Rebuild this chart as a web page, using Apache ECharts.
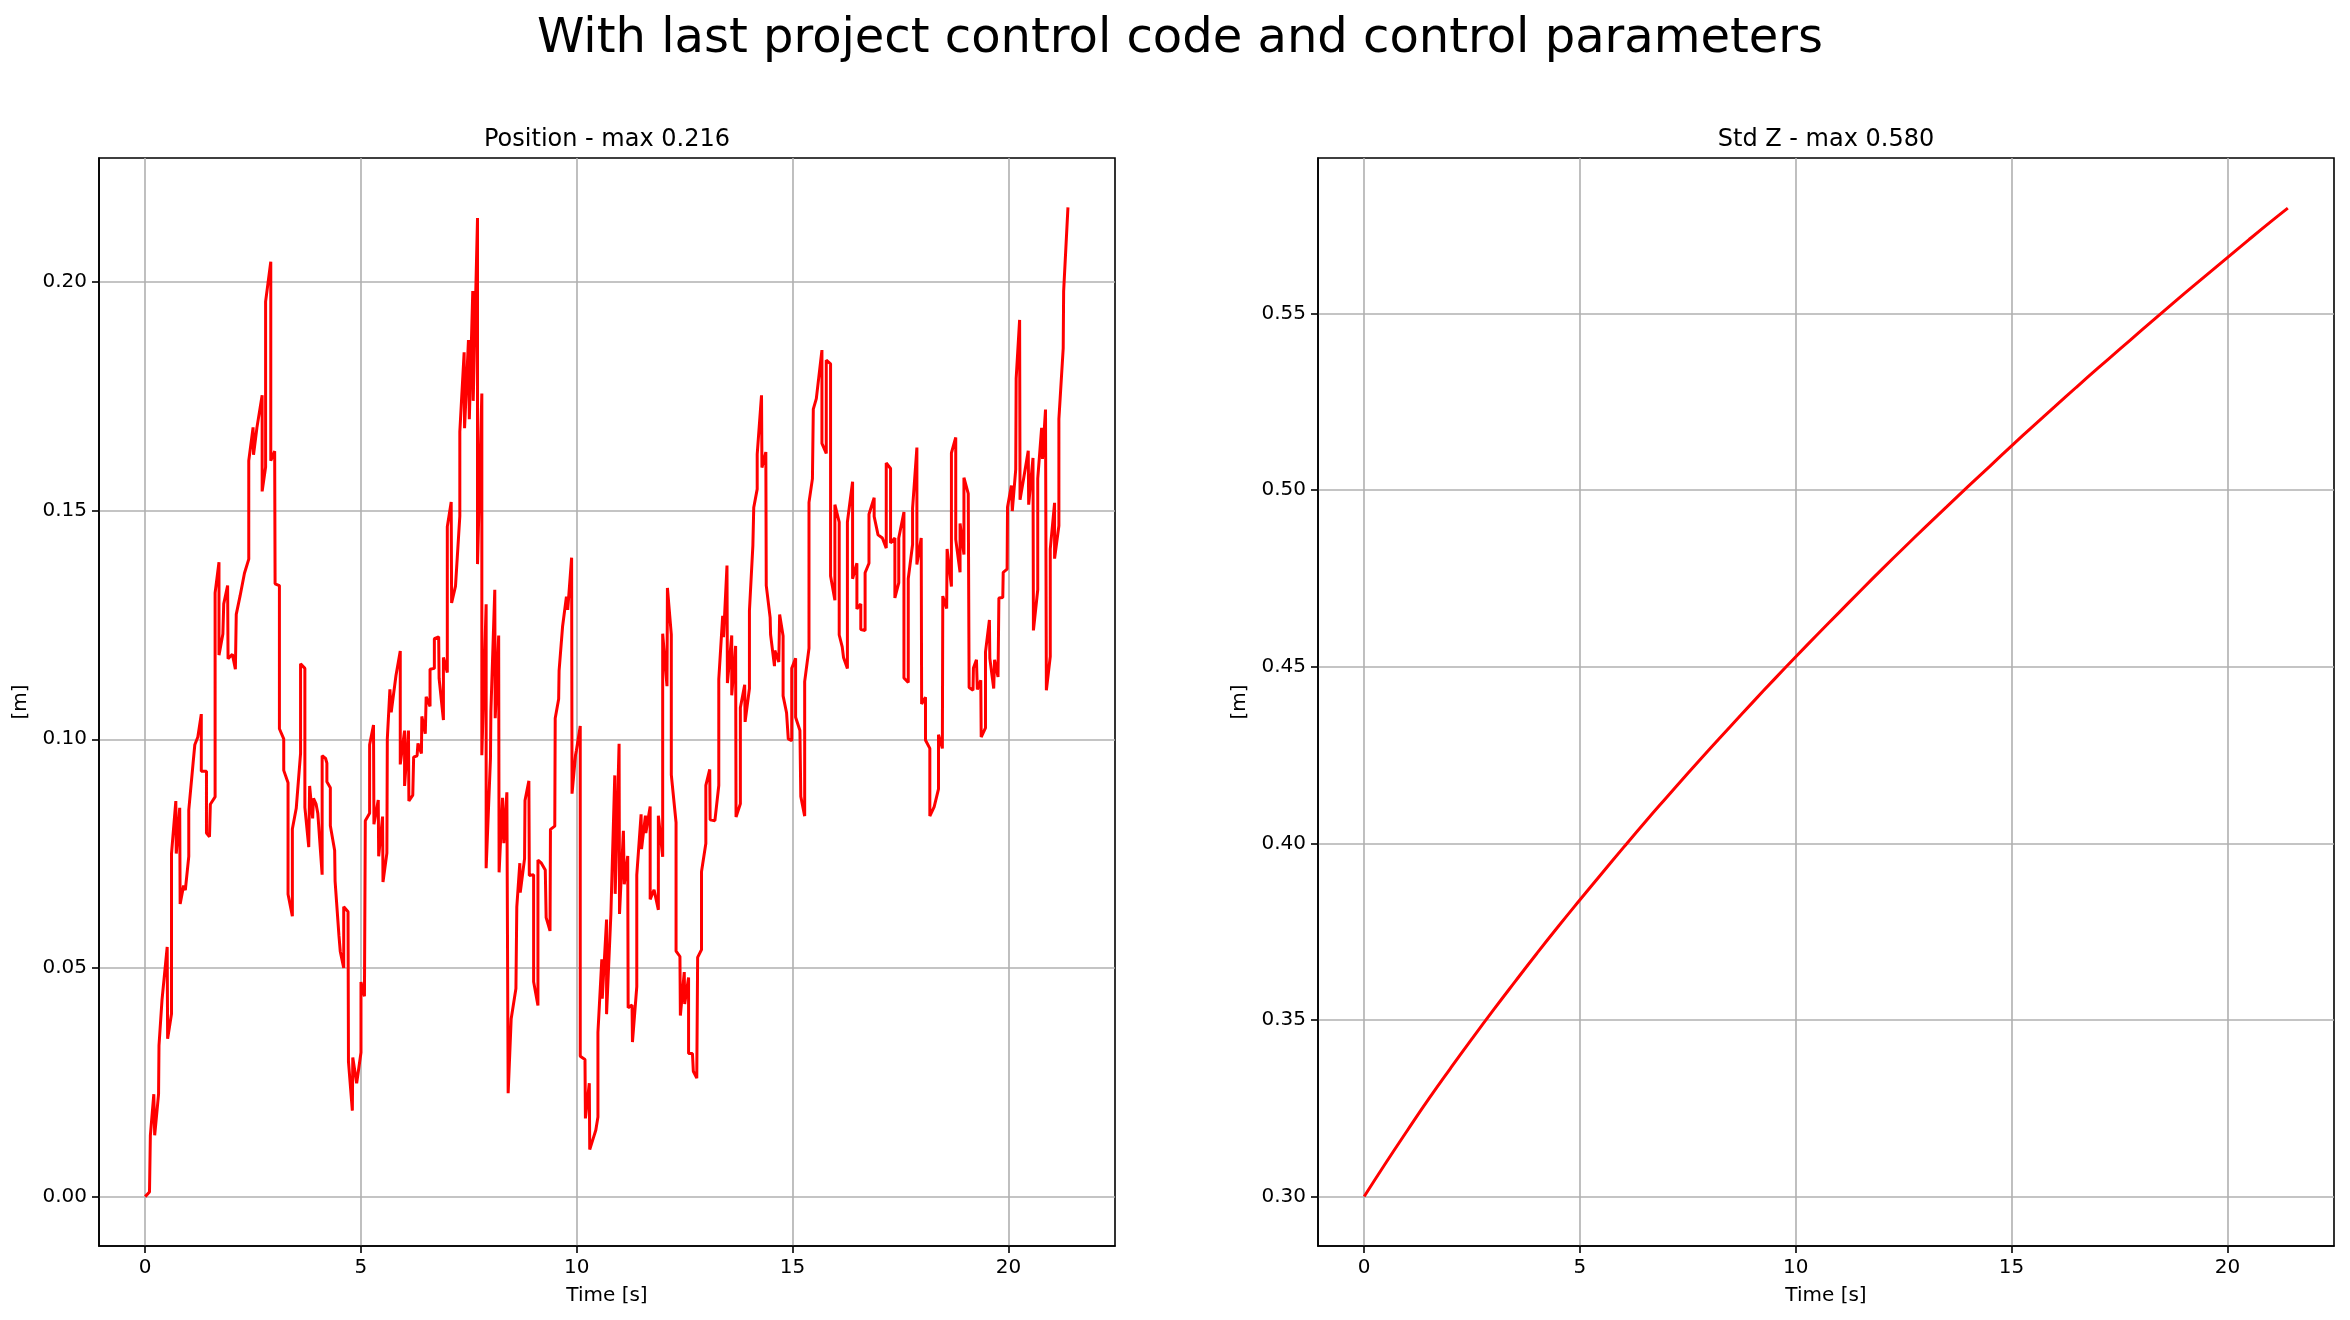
<!DOCTYPE html>
<html>
<head>
<meta charset="utf-8">
<script src="https://cdn.jsdelivr.net/npm/echarts@6/dist/echarts.min.js"></script>
<style>
html,body{margin:0;padding:0;background:#fff;}
#chart{width:2350px;height:1320px;}
</style>
</head>
<body>
<div id="chart"></div>
<script>
// ---- Data ----
const suptitle = "With last project control code and control parameters";
const titlePos = "Position - max 0.216";
const titleStd = "Std Z - max 0.580";
const xName = "Time [s]";
const yName = "[m]";

const xTicks = [0, 5, 10, 15, 20];
const posYTicks = [0.00, 0.05, 0.10, 0.15, 0.20];
const stdYTicks = [0.30, 0.35, 0.40, 0.45, 0.50, 0.55];

const posT = [0.00,0.10,0.12,0.20,0.22,0.31,0.32,0.39,0.51,0.52,0.61,0.61,0.71,0.72,0.80,0.81,0.89,0.93,1.01,1.01,
1.11,1.15,1.22,1.30,1.30,1.42,1.42,1.49,1.51,1.62,1.62,1.71,1.71,1.80,1.82,1.91,1.92,2.02,2.09,2.11,
2.20,2.30,2.40,2.40,2.50,2.51,2.59,2.71,2.71,2.79,2.79,2.91,2.91,3.00,3.01,3.11,3.11,3.21,3.21,3.31,
3.31,3.41,3.41,3.50,3.60,3.60,3.70,3.70,3.79,3.81,3.88,3.90,3.96,4.00,4.10,4.10,4.18,4.21,4.21,4.29,
4.29,4.39,4.40,4.49,4.52,4.60,4.60,4.70,4.71,4.80,4.81,4.90,5.00,5.00,5.08,5.10,5.20,5.20,5.29,5.30,
5.40,5.41,5.50,5.51,5.60,5.61,5.67,5.70,5.78,5.81,5.91,5.91,6.01,6.01,6.10,6.11,6.20,6.22,6.30,6.32,
6.40,6.41,6.49,6.51,6.60,6.60,6.70,6.70,6.80,6.81,6.91,6.91,7.00,7.00,7.09,7.10,7.19,7.29,7.29,7.39,
7.40,7.49,7.51,7.59,7.60,7.70,7.70,7.80,7.80,7.90,7.90,8.00,8.01,8.10,8.11,8.19,8.20,8.28,8.31,8.38,
8.41,8.48,8.59,8.61,8.68,8.69,8.79,8.80,8.89,8.90,9.00,9.00,9.10,9.10,9.18,9.27,9.29,9.38,9.39,9.49,
9.50,9.58,9.59,9.67,9.76,9.79,9.88,9.89,9.97,9.99,10.08,10.08,10.19,10.20,10.29,10.30,10.39,10.44,10.49,10.49,
10.58,10.59,10.69,10.69,10.79,10.88,10.89,10.98,10.99,11.08,11.10,11.18,11.19,11.28,11.29,11.39,11.39,11.49,11.50,11.59,
11.60,11.70,11.70,11.79,11.89,11.89,11.99,11.99,12.09,12.10,12.19,12.19,12.30,12.30,12.39,12.40,12.49,12.50,12.59,12.59,
12.68,12.70,12.78,12.80,12.89,12.89,12.99,12.99,13.08,13.09,13.20,13.29,13.29,13.38,13.40,13.48,13.49,13.59,13.59,13.68,
13.69,13.79,13.79,13.89,13.90,14.00,14.00,14.08,14.10,14.18,14.18,14.28,14.29,14.38,14.39,14.48,14.49,14.58,14.59,14.68,
14.70,14.78,14.78,14.86,14.90,14.98,14.98,15.07,15.07,15.17,15.19,15.28,15.28,15.38,15.38,15.46,15.48,15.55,15.68,15.68,
15.78,15.78,15.88,15.88,15.98,15.98,16.08,16.08,16.15,16.18,16.27,16.27,16.39,16.39,16.49,16.49,16.58,16.58,16.68,16.68,
16.77,16.77,16.89,16.89,16.98,17.08,17.17,17.17,17.27,17.27,17.37,17.37,17.46,17.46,17.58,17.58,17.68,17.68,17.78,17.78,
17.88,17.88,17.98,17.99,18.08,18.08,18.18,18.18,18.28,18.38,18.38,18.47,18.48,18.57,18.58,18.68,18.68,18.78,18.78,18.88,
18.88,18.97,18.97,19.07,19.09,19.18,19.19,19.26,19.28,19.36,19.37,19.47,19.47,19.56,19.57,19.66,19.68,19.76,19.78,19.87,
19.88,19.97,19.98,20.07,20.09,20.17,20.18,20.26,20.27,20.36,20.46,20.47,20.57,20.58,20.68,20.68,20.77,20.79,20.86,20.88,
20.97,20.97,21.07,21.07,21.17,21.17,21.27,21.28,21.38];

const posY = [0.000,0.001,0.0134,0.0224,0.0134,0.0224,0.033,0.043,0.0546,0.0345,0.040,0.075,0.0865,0.075,0.085,0.064,0.068,0.067,0.0744,0.0845,
0.0948,0.0988,0.1005,0.1055,0.093,0.093,0.0795,0.0787,0.0858,0.0874,0.132,0.1387,0.1184,0.123,0.1296,0.1336,0.1176,0.1186,0.1153,0.1273,
0.1314,0.1363,0.1394,0.1609,0.1682,0.1622,0.1682,0.1752,0.1542,0.1595,0.1957,0.2044,0.1609,0.163,0.134,0.1336,0.1023,0.1001,0.0932,0.0905,
0.0661,0.0613,0.0804,0.0849,0.0969,0.1165,0.1155,0.0851,0.0764,0.0898,0.0827,0.0871,0.0858,0.0838,0.0704,0.0964,0.0958,0.0948,0.0907,0.0894,
0.0811,0.0757,0.069,0.057,0.0536,0.050,0.0634,0.0623,0.0295,0.0188,0.0304,0.0248,0.0315,0.0469,0.0438,0.0822,0.0838,0.0988,0.1031,0.0814,
0.0867,0.0744,0.0831,0.0688,0.0751,0.1001,0.1109,0.1059,0.1117,0.1139,0.1193,0.0945,0.1019,0.0898,0.1019,0.0865,0.0878,0.0961,0.0964,0.0991,
0.0969,0.105,0.1012,0.1093,0.1072,0.1153,0.1155,0.122,0.1224,0.1133,0.1042,0.1179,0.1146,0.1465,0.1519,0.1298,0.1335,0.1488,0.1672,0.1846,
0.168,0.1873,0.170,0.198,0.174,0.214,0.1383,0.1756,0.0965,0.1295,0.0718,0.0958,0.1061,0.1327,0.1046,0.1227,0.0709,0.0872,0.0773,0.0884,
0.0226,0.0389,0.0455,0.0633,0.0729,0.0665,0.0739,0.0866,0.0909,0.0702,0.0704,0.047,0.0418,0.0736,0.0729,0.0714,0.061,0.0581,0.0803,0.081,
0.1046,0.1088,0.115,0.1246,0.1312,0.1283,0.1397,0.0881,0.0965,0.0975,0.1029,0.0307,0.030,0.0171,0.0248,0.0103,0.013,0.0145,0.0174,0.0359,
0.0519,0.0433,0.0606,0.0399,0.0618,0.0921,0.0662,0.099,0.0618,0.080,0.0683,0.0745,0.0413,0.0419,0.0338,0.0459,0.0703,0.0836,0.076,0.0833,
0.0795,0.0853,0.065,0.0671,0.0627,0.0833,0.0743,0.1231,0.1116,0.1331,0.1229,0.0922,0.0818,0.0537,0.0525,0.0396,0.0491,0.0421,0.0479,0.0313,
0.0313,0.0274,0.0259,0.0523,0.054,0.0711,0.0772,0.0899,0.0934,0.0824,0.0822,0.0899,0.1131,0.127,0.1223,0.138,0.1123,0.1227,0.1096,0.1204,
0.083,0.0859,0.1069,0.1119,0.1038,0.1111,0.1281,0.1424,0.1507,0.1547,0.1623,0.1752,0.1594,0.1628,0.1336,0.1266,0.1229,0.116,0.1194,0.1169,
0.1273,0.1226,0.1095,0.1058,0.1001,0.0997,0.1155,0.1177,0.1048,0.1019,0.0875,0.0832,0.1126,0.1199,0.1518,0.157,0.1722,0.1745,0.1851,0.1647,
0.1625,0.1829,0.1821,0.1357,0.1304,0.1513,0.1475,0.1228,0.1202,0.1179,0.1155,0.1475,0.1563,0.1351,0.1385,0.1285,0.1296,0.124,0.1238,0.1364,
0.1385,0.1492,0.1528,0.1487,0.1447,0.144,0.1418,0.1604,0.1592,0.1429,0.144,0.1309,0.1342,0.144,0.1497,0.1134,0.1124,0.1351,0.1426,0.1505,
0.1638,0.1382,0.144,0.1077,0.1092,0.0998,0.098,0.0832,0.0852,0.0891,0.1010,0.098,0.1313,0.1286,0.1416,0.1334,0.1626,0.166,0.1437,0.1365,
0.1472,0.1404,0.1572,0.1537,0.1113,0.1107,0.1156,0.1174,0.1109,0.1129,0.1005,0.1025,0.1191,0.1261,0.1177,0.1111,0.1174,0.1136,0.1309,0.131,
0.1365,0.1372,0.1508,0.1555,0.1499,0.159,0.1789,0.1917,0.1524,0.1574,0.1631,0.1513,0.1615,0.1238,0.1327,0.157,0.1681,0.1613,0.1721,0.1107,
0.1181,0.1416,0.1517,0.1395,0.1467,0.17,0.1855,0.198,0.2163];

const stdT = [0,0.5,1,1.5,2,2.5,3,3.5,4,4.5,5,5.5,6,6.5,7,7.5,8,8.5,9,9.5,10,10.5,11,11.5,12,12.5,13,13.5,14,14.5,15,15.5,16,16.5,17,17.5,18,18.5,19,19.5,20,20.5,21,21.4];
const stdY = [0.300,0.3095,0.3187,0.3277,0.3363,0.3447,0.3529,0.3609,0.3688,0.3765,0.3840,0.3914,0.3987,0.4059,0.4129,0.4198,0.4266,0.4333,0.4399,0.4464,
0.4528,0.4591,0.4653,0.4715,0.4776,0.4836,0.4895,0.4953,0.5011,0.5068,0.5125,0.5181,0.5236,0.5291,0.5345,0.5398,0.5451,0.5504,0.5556,0.5607,
0.5658,0.5709,0.5759,0.5798];

// ---- Chart ----
const FONT = "DejaVu Sans";
const posData = posT.map((t, i) => [t, posY[i]]);
const stdData = stdT.map((t, i) => [t, stdY[i]]);

function xAxisCfg(gridIndex) {
  return {
    type: 'value', gridIndex: gridIndex,
    min: -1.07, max: 22.47,
    name: xName, nameLocation: 'middle', nameGap: 40,
    nameTextStyle: {fontFamily: FONT, fontSize: 20, color: '#000'},
    axisLine: {show: true, onZero: false, lineStyle: {color: '#000', width: 1.6}},
    axisTick: {show: true, inside: false, length: 7, customValues: xTicks, lineStyle: {color: '#000', width: 1.6}},
    axisLabel: {show: true, margin: 12, customValues: xTicks, fontFamily: FONT, fontSize: 20, color: '#000',
      formatter: v => String(v)},
    splitLine: {show: true, lineStyle: {color: '#b0b0b0', width: 1.6}}
  };
}
function yAxisCfg(gridIndex, min, max, ticks) {
  return {
    type: 'value', gridIndex: gridIndex,
    min: min, max: max,
    name: yName, nameLocation: 'middle', nameGap: 68, nameRotate: 90,
    nameTextStyle: {fontFamily: FONT, fontSize: 20, color: '#000'},
    axisLine: {show: true, onZero: false, lineStyle: {color: '#000', width: 1.6}},
    axisTick: {show: true, inside: false, length: 7, customValues: ticks, lineStyle: {color: '#000', width: 1.6}},
    axisLabel: {show: true, margin: 12, customValues: ticks, fontFamily: FONT, fontSize: 20, color: '#000',
      formatter: v => v.toFixed(2)},
    splitLine: {show: true, lineStyle: {color: '#b0b0b0', width: 1.6}}
  };
}

const chart = echarts.init(document.getElementById('chart'), null, {renderer: 'canvas', width: 2350, height: 1320});
chart.setOption({
  animation: false,
  backgroundColor: '#fff',
  title: [
    {text: suptitle, left: 1175, textAlign: 'center', top: 11,
     textStyle: {fontFamily: FONT, fontSize: 48, fontWeight: 'normal', color: '#000', lineHeight: 48}},
    {text: titlePos, left: 607, textAlign: 'center', top: 128,
     textStyle: {fontFamily: FONT, fontSize: 24, fontWeight: 'normal', color: '#000', lineHeight: 24}, padding: 0},
    {text: titleStd, left: 1826, textAlign: 'center', top: 128,
     textStyle: {fontFamily: FONT, fontSize: 24, fontWeight: 'normal', color: '#000', lineHeight: 24}, padding: 0}
  ],
  grid: [
    {left: 99, top: 158, width: 1016, height: 1088, show: true, borderColor: '#000', borderWidth: 1.6, containLabel: false, outerBoundsMode: 'none'},
    {left: 1318, top: 158, width: 1016, height: 1088, show: true, borderColor: '#000', borderWidth: 1.6, containLabel: false, outerBoundsMode: 'none'}
  ],
  xAxis: [xAxisCfg(0), xAxisCfg(1)],
  yAxis: [yAxisCfg(0, -0.0108, 0.2271, posYTicks), yAxisCfg(1, 0.286, 0.594, stdYTicks)],
  series: [
    {type: 'line', xAxisIndex: 0, yAxisIndex: 0, data: posData, showSymbol: false, symbol: 'none',
     lineStyle: {color: '#ff0000', width: 3}, itemStyle: {color: '#ff0000'}, clip: true},
    {type: 'line', xAxisIndex: 1, yAxisIndex: 1, data: stdData, showSymbol: false, symbol: 'none', smooth: true,
     lineStyle: {color: '#ff0000', width: 3}, itemStyle: {color: '#ff0000'}, clip: true}
  ]
});
</script>
</body>
</html>
